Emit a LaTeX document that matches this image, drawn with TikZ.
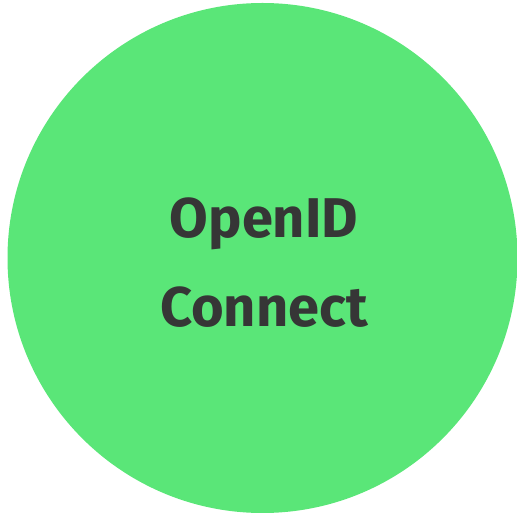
\documentclass[tikz,border=0pt]{standalone}
\usepackage{fontspec}
\setmainfont{Fira Sans}
\definecolor{circgreen}{HTML}{5AE678}
\definecolor{txtgray}{HTML}{363636}
\tikzset{
  bubble/.style={circle, fill=circgreen, draw=none, minimum size=510pt, inner sep=0pt},
  label/.style={text=txtgray, font=\fontsize{56}{89}\selectfont\bfseries, align=center}
}
\begin{document}
\begin{tikzpicture}[x=1pt,y=1pt]
\useasboundingbox (0,0) rectangle (517,517);
\node[bubble] (c) at (262.5,259) {};
\node[label] (t) at (264,254) {OpenID\\Connect};
\end{tikzpicture}
\end{document}
